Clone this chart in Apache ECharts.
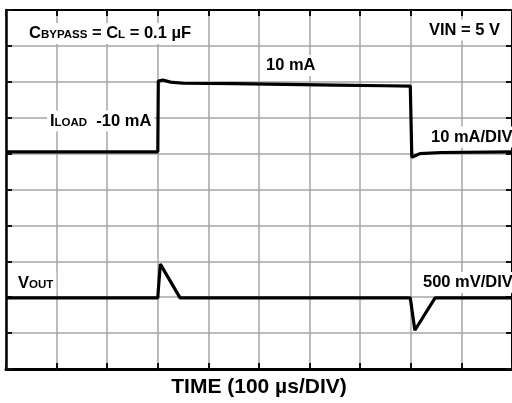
<!DOCTYPE html>
<html>
<head>
<meta charset="utf-8">
<script src="https://cdn.jsdelivr.net/npm/echarts@6/dist/echarts.min.js"></script>
<style>
html,body{margin:0;padding:0;background:#fff;}
#chart{width:512px;height:403px;}
</style>
</head>
<body>
<div id="chart"></div>
<script>
// Time in µs (100 µs/DIV), trace levels in screen divisions (0 = bottom, 10 = top)
var loadTime   = [0, 150, 300, 301, 304, 310, 325, 350, 450, 550, 650, 750, 799, 802, 818, 860, 1000];
var loadLevel  = [6.05, 6.05, 6.05, 8.02, 8.07, 8.05, 7.99, 7.96, 7.95, 7.93, 7.91, 7.89, 7.88, 5.90, 6.00, 6.03, 6.05];
var voutTime   = [0, 300, 301, 305, 344, 799, 808, 848, 1000];
var voutLevel  = [1.98, 1.98, 2.2, 2.92, 1.98, 1.98, 1.08, 1.98, 1.98];
var xTitle = 'TIME (100 µs/DIV)';

function pairs(xs, ys){ return xs.map(function(x,i){ return [x, ys[i]]; }); }

var FONT = "'Liberation Sans', Arial, sans-serif";
var GRID_COLOR = '#a6a6a6';
var big = {fontSize:16.5, fontWeight:'bold', fontFamily:FONT, color:'#000', verticalAlign:'bottom'};
var small = {fontSize:11.5, fontWeight:'bold', fontFamily:FONT, color:'#000', verticalAlign:'bottom', padding:[0,0,1,0]};

function label(x, y, text, align, rich){
  return {
    type:'text', x:x, y:y, z:50,
    style:{
      text:text, align:align||'left', verticalAlign:'middle',
      fontSize:16.5, fontWeight:'bold', fontFamily:FONT, fill:'#000',
      backgroundColor:'#fff', padding:[2,3,2,3],
      rich: rich ? {a:big, b:small} : undefined
    }
  };
}

var chart = echarts.init(document.getElementById('chart'), null, {renderer:'canvas'});
var borderAxis = function(pos, width){
  return {
    type:'value', position:pos, min:0, max:1000, interval:100, z:3,
    axisLine:{show:true, onZero:false, lineStyle:{color:'#000', width:width}},
    axisTick:{show:true, inside:true, length:6, lineStyle:{color:'#111', width:2}},
    axisLabel:{show:false}, splitLine:{show:false}
  };
};
var borderYAxis = function(pos, width){
  return {
    type:'value', position:pos, min:0, max:10, interval:1, z:3,
    axisLine:{show:true, onZero:false, lineStyle:{color:'#000', width:width}},
    axisTick:{show:true, inside:true, length:6, lineStyle:{color:'#111', width:2}},
    axisLabel:{show:false}, splitLine:{show:false}
  };
};
var xb = borderAxis('bottom', 3);
xb.name = xTitle; xb.nameLocation = 'middle'; xb.nameGap = 8;
xb.nameTextStyle = {fontFamily:FONT, fontWeight:'bold', fontSize:21, color:'#000', verticalAlign:'top'};

chart.setOption({
  animation:false,
  backgroundColor:'#fff',
  grid:{left:6, top:10, width:510, height:363, containLabel:false},
  xAxis:[
    xb,
    borderAxis('top', 2),
    {type:'value', position:'bottom', min:0, max:1000, interval:100, z:0,
     axisLine:{show:false}, axisTick:{show:false}, axisLabel:{show:false},
     splitLine:{show:true, lineStyle:{color:GRID_COLOR, width:1.5}}}
  ],
  yAxis:[
    borderYAxis('left', 2.5),
    borderYAxis('right', 2),
    {type:'value', position:'left', min:0, max:10, interval:1, z:0,
     axisLine:{show:false}, axisTick:{show:false}, axisLabel:{show:false},
     splitLine:{show:true, lineStyle:{color:GRID_COLOR, width:1.5}}}
  ],
  series:[
    {type:'line', xAxisIndex:0, yAxisIndex:0, data:pairs(loadTime, loadLevel), showSymbol:false,
     lineStyle:{color:'#000', width:3.2}, z:10},
    {type:'line', xAxisIndex:0, yAxisIndex:0, data:pairs(voutTime, voutLevel), showSymbol:false,
     lineStyle:{color:'#000', width:3.2}, z:10}
  ],
  graphic:[
    label(26, 33.5, '{a|C}{b|BYPASS}{a| = C}{b|L}{a| = 0.1 µF}', 'left', true),
    label(503, 30, 'VIN = 5 V', 'right'),
    label(263, 65.5, '10 mA', 'left'),
    label(47, 121, '{a|I}{b|LOAD}{a|  -10 mA}', 'left', true),
    label(428, 137, '10 mA/DIV', 'left'),
    label(15, 283, '{a|V}{b|OUT}', 'left', true),
    label(420, 282.5, '500 mV/DIV', 'left')
  ]
});
</script>
</body>
</html>
